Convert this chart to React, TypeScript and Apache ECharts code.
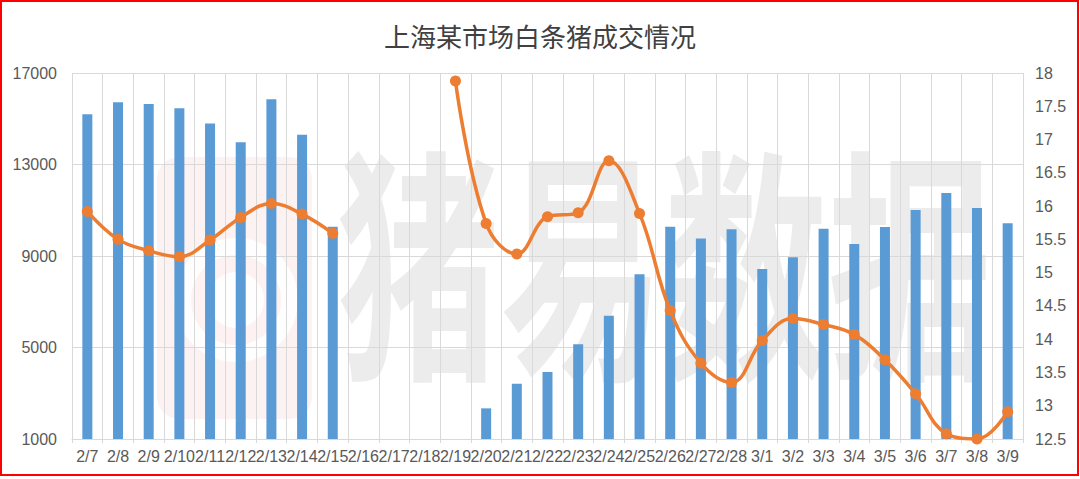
import React, { useEffect, useRef } from "react";
import * as echarts from "echarts";

const categories = [
  "2/7", "2/8", "2/9", "2/10", "2/11", "2/12", "2/13", "2/14", "2/15", "2/16", "2/17", "2/18", "2/19",
  "2/20", "2/21", "2/22", "2/23", "2/24", "2/25", "2/26", "2/27", "2/28",
  "3/1", "3/2", "3/3", "3/4", "3/5", "3/6", "3/7", "3/8", "3/9",
];

const volume = [
  15200, 15720, 15650, 15460, 14790, 13970, 15850, 14300, 10280,
  null, null, null, null,
  2340, 3420, 3930, 5140, 6390, 8200, 10280, 9760, 10170,
  8430, 8940, 10190, 9530, 10270, 11010, 11750, 11100, 10430,
];

const price = [
  15.92, 15.5, 15.33, 15.24, 15.49, 15.83, 16.04, 15.88, 15.59,
  null, null, null,
  17.88, 15.74, 15.28, 15.84, 15.9, 16.68, 15.89, 14.43, 13.64, 13.35,
  13.98, 14.31, 14.22, 14.07, 13.69, 13.18, 12.58, 12.5, 12.91,
];

const leftTickLabels = [1000, 5000, 9000, 13000, 17000];

const TITLE = "上海某市场白条猪成交情况";
const WATERMARK = "猪易数据";

export default function App() {
  const ref = useRef<HTMLDivElement>(null);

  useEffect(() => {
    if (!ref.current) return;
    const chart = echarts.init(ref.current, null, { renderer: "svg" });
    const labelColor = "#595959";
    const gridColor = "#d9d9d9";
    const font = "'Liberation Sans', Arial, sans-serif";

    chart.setOption({
      animation: false,
      backgroundColor: "#ffffff",
      title: {
        text: TITLE,
        left: "center",
        top: 17,
        textStyle: {
          fontSize: 26,
          fontWeight: "normal",
          color: "#404040",
          fontFamily: "'Noto Sans CJK SC', sans-serif",
        },
      },
      graphic: [
        {
          type: "rect",
          z: -20,
          silent: true,
          shape: { x: 157, y: 157, width: 155, height: 262, r: 22 },
          style: { fill: "rgba(240,130,130,0.10)" },
        },
        {
          type: "circle",
          z: -19,
          silent: true,
          shape: { cx: 236, cy: 300, r: 62 },
          style: { fill: "rgba(255,255,255,0.9)" },
        },
        {
          type: "ring",
          z: -18,
          silent: true,
          shape: { cx: 236, cy: 300, r: 45, r0: 28 },
          style: { fill: "rgba(240,130,130,0.10)" },
        },
        {
          type: "text",
          z: -15,
          silent: true,
          x: 336,
          y: 130,
          scaleY: 1.5,
          style: {
            text: WATERMARK,
            fill: "#ececec",
            font: "bold 164px 'Noto Sans CJK SC', sans-serif",
            textVerticalAlign: "top",
          },
        },
        {
          type: "rect",
          z: 100,
          silent: true,
          shape: { x: 1, y: 1, width: 1077, height: 474 },
          style: { fill: "none", stroke: "#ff0000", lineWidth: 2 },
        },
      ],
      grid: { left: 72, right: 57, top: 73, bottom: 40 },
      xAxis: {
        type: "category",
        data: categories,
        boundaryGap: true,
        axisLine: { show: true, lineStyle: { color: gridColor, width: 1 } },
        axisTick: { show: true, length: 4, lineStyle: { color: gridColor } },
        splitLine: { show: true, interval: 0, lineStyle: { color: gridColor, width: 1 } },
        axisLabel: {
          interval: 0,
          color: labelColor,
          fontSize: 16,
          fontFamily: font,
          margin: 9,
        },
      },
      yAxis: [
        {
          type: "value",
          min: 1000,
          max: 17000,
          interval: 1000,
          position: "left",
          axisLine: { show: false },
          axisTick: { show: false },
          splitLine: { show: false },
          axisLabel: {
            color: labelColor,
            fontSize: 16,
            fontFamily: font,
            margin: 15,
            formatter: (v: number) => (leftTickLabels.includes(v) ? String(v) : ""),
          },
        },
        {
          type: "value",
          min: 12.5,
          max: 18,
          interval: 0.5,
          position: "right",
          axisLine: { show: false },
          axisTick: { show: false },
          splitLine: { show: false },
          axisLabel: {
            color: labelColor,
            fontSize: 16,
            fontFamily: font,
            margin: 12,
          },
        },
        {
          type: "value",
          min: 0,
          max: 4,
          interval: 1,
          position: "left",
          axisLine: { show: false },
          axisTick: { show: false },
          axisLabel: { show: false },
          splitLine: { show: true, lineStyle: { color: gridColor, width: 1 } },
        },
      ],
      series: [
        {
          name: "成交量",
          type: "bar",
          yAxisIndex: 0,
          data: volume,
          barWidth: 10,
          itemStyle: { color: "#5B9BD5" },
        },
        {
          name: "价格",
          type: "line",
          yAxisIndex: 1,
          data: price,
          smooth: 0.4,
          connectNulls: false,
          symbol: "circle",
          symbolSize: 11,
          lineStyle: { color: "#ED7D31", width: 3.5 },
          itemStyle: { color: "#ED7D31" },
          z: 3,
        },
      ],
    });

    return () => chart.dispose();
  }, []);

  return (
    <div
      ref={ref}
      style={{ position: "fixed", left: 0, top: 0, width: 1080, height: 479 }}
    />
  );
}
